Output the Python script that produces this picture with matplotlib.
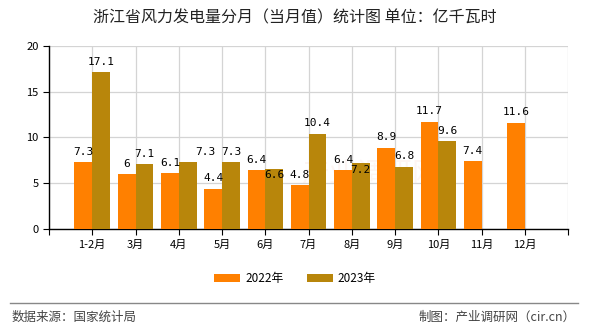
import matplotlib.pyplot as plt
import numpy as np

plt.rcParams['font.family'] = ['Noto Sans CJK SC', 'DejaVu Sans']

months = ['1-2月', '3月', '4月', '5月', '6月', '7月', '8月', '9月', '10月', '11月', '12月']
y2022 = [7.3, 6, 6.1, 4.4, 6.4, 4.8, 6.4, 8.9, 11.7, 7.4, 11.6]
y2023 = [17.1, 7.1, 7.3, 7.3, 6.6, 10.4, 7.2, 6.8, 9.6]

c2022 = '#FF8000'
c2023 = '#B8860B'

fig = plt.figure(figsize=(5.9, 3.3), dpi=100)
ax = fig.add_axes([0.083, 0.306, 0.88, 0.555])

x = np.arange(len(months))
w = 0.41
ax.bar(x[:len(y2022)] - w / 2, y2022, width=w, color=c2022, label='2022年', zorder=3)
ax.bar(x[:len(y2023)] + w / 2, y2023, width=w, color=c2023, label='2023年', zorder=3)

# 数值标签，个别标签挪开避免重叠
shift23 = {2: (0.4, 0.0), 4: (0.0, -1.9), 6: (0.0, -1.9)}
for i, v in enumerate(y2022):
    ax.text(i - w / 2, v + 0.6, '%g' % v, ha='center', va='bottom',
            fontsize=8, family='DejaVu Sans Mono', zorder=4)
for i, v in enumerate(y2023):
    dx, dy = shift23.get(i, (0.0, 0.0))
    ax.text(i + w / 2 + dx, v + 0.6 + dy, '%g' % v, ha='center', va='bottom',
            fontsize=8, family='DejaVu Sans Mono', zorder=4)

ax.set_xlim(-1, len(months))
ax.set_ylim(0, 20)
ax.set_yticks([0, 5, 10, 15, 20])
ax.set_xticks(np.arange(-1, len(months) + 1))
ax.set_xticklabels([''] + months + [''])
ax.tick_params(axis='both', labelsize=8, length=4, direction='out', color='black')
ax.grid(True, color='#d4d4d4', linewidth=0.9, zorder=0)
for s in ['top', 'right']:
    ax.spines[s].set_visible(False)
for s in ['left', 'bottom']:
    ax.spines[s].set_color('black')
    ax.spines[s].set_linewidth(1.0)

# 浅色水印
ax.text(0.62, 0.3, '产业调研网', transform=ax.transAxes, fontsize=20,
        color='#e06040', alpha=0.06, ha='center', va='center', zorder=1)

fig.text(0.5, 0.945, '浙江省风力发电量分月（当月值）统计图 单位：亿千瓦时',
         ha='center', va='center', fontsize=11.5, color='#222222')

ax.legend(loc='center', bbox_to_anchor=(0.5, 0.155), bbox_transform=fig.transFigure,
          ncol=2, frameon=False, fontsize=8.5, handlelength=2.2, handleheight=0.6,
          columnspacing=2.0, handletextpad=0.4)

fig.add_artist(plt.Line2D([0.017, 0.98], [0.082, 0.082], color='#888888', linewidth=1.0,
                          transform=fig.transFigure))
fig.text(0.02, 0.04, '数据来源：国家统计局', ha='left', va='center', fontsize=9, color='#444444')
fig.text(0.975, 0.04, '制图：产业调研网（cir.cn）', ha='right', va='center', fontsize=9, color='#444444')

fig.savefig('out.png', dpi=100, facecolor='white')
